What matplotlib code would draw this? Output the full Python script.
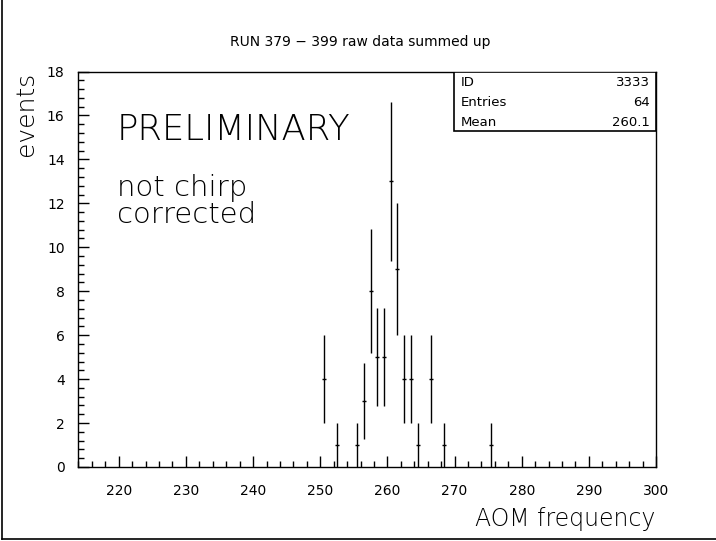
import matplotlib.pyplot as plt
import numpy as np

# bin centres (AOM frequency) and counts per bin
freq = [250.5, 252.5, 255.5, 256.5, 257.5, 258.5, 259.5, 260.5,
        261.5, 262.5, 263.5, 264.5, 266.5, 268.5, 275.5]
counts = [4, 1, 1, 3, 8, 5, 5, 13, 9, 4, 4, 1, 4, 1, 1]

hist_id = "3333"
entries = "64"
mean = "260.1"

fig = plt.figure(figsize=(7.16, 5.41), dpi=100)
ax = fig.add_axes([0.1096, 0.1368, 0.8066, 0.731])

err = np.sqrt(counts)
ax.errorbar(freq, counts, yerr=err, xerr=0.3, fmt="none", ecolor="black",
            elinewidth=1.0, capsize=0)

ax.set_xlim(214, 300)
ax.set_ylim(0, 18)
ax.set_xticks(np.arange(220, 301, 10))
ax.set_xticks(np.arange(214, 301, 2), minor=True)
ax.set_yticks(np.arange(0, 19, 2))
ax.set_yticks(np.arange(0, 18.01, 0.4), minor=True)
ax.tick_params(which="both", direction="in", top=False, right=False,
               labelsize=10, width=1.0)
ax.tick_params(which="major", length=8)
ax.tick_params(which="minor", length=4)
ax.tick_params(axis="x", pad=12)
ax.tick_params(axis="y", pad=10)
for s in ax.spines.values():
    s.set_linewidth(1.0)

fig.text(0.503, 0.922, "RUN 379 \u2212 399 raw data summed up",
         ha="center", va="center", fontsize=10)
fig.text(0.915, 0.04, "AOM frequency", ha="right", va="center",
         fontsize=17, fontweight="light")
fig.text(0.036, 0.79, "events", ha="center", va="center", rotation=90,
         fontsize=18, fontweight="light")

ax.text(0.066, 0.852, "PRELIMINARY", transform=ax.transAxes, fontsize=25.5,
        fontweight="light", va="center", ha="left")
ax.text(0.066, 0.705, "not chirp", transform=ax.transAxes, fontsize=21,
        fontweight="light", va="center", ha="left")
ax.text(0.066, 0.636, "corrected", transform=ax.transAxes, fontsize=21,
        fontweight="light", va="center", ha="left")

# stats box
box = plt.Rectangle((0.650, 0.8496), 0.35, 0.1504, transform=ax.transAxes,
                    facecolor="white", edgecolor="black", lw=1.2, zorder=5)
ax.add_patch(box)
rows = [("ID", hist_id), ("Entries", entries), ("Mean", mean)]
for i, (k, v) in enumerate(rows):
    y = 0.972 - i * 0.0505
    ax.text(0.662, y, k, transform=ax.transAxes, fontsize=9.5, va="center",
            ha="left", zorder=6)
    ax.text(0.99, y, v, transform=ax.transAxes, fontsize=9.5, va="center",
            ha="right", zorder=6)

# canvas frame lines (left and bottom)
fig.add_artist(plt.Line2D([0.003, 0.003], [0.004, 1.0], color="black", lw=1.2))
fig.add_artist(plt.Line2D([0.003, 1.0], [0.004, 0.004], color="black", lw=1.2))

fig.savefig("out.png", dpi=100)
